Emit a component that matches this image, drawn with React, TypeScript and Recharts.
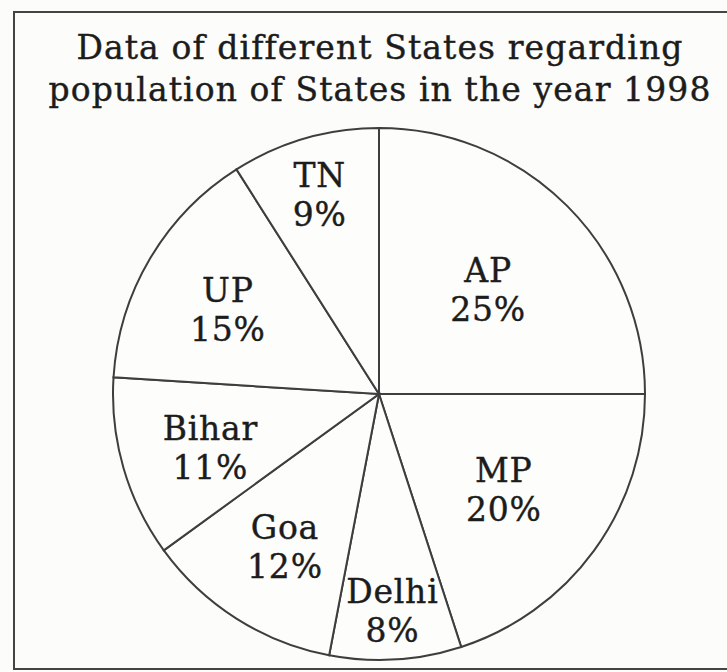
import { PieChart, Pie, Cell } from "recharts";

const states = ["AP", "MP", "Delhi", "Goa", "Bihar", "UP", "TN"];
const shares = [25, 20, 8, 12, 11, 15, 9];

const data = states.map((name, i) => ({ name, value: shares[i] }));

const RAD = Math.PI / 180;
const FONT = "'DejaVu Serif', serif";
const INK = "#1c1c1c";

// narrow slices keep their label further out, near the rim
function labelRatio(pct: number) {
  if (pct >= 20) return 0.58;
  if (pct >= 11) return 0.66;
  return 0.8;
}

function renderLabel(props: any) {
  const { cx, cy, midAngle, outerRadius, name, value } = props;
  const r = outerRadius * labelRatio(value);
  const x = cx + r * Math.cos(-midAngle * RAD);
  const y = cy + r * Math.sin(-midAngle * RAD);
  return (
    <text
      x={x}
      y={y}
      textAnchor="middle"
      fill={INK}
      stroke={INK}
      strokeWidth={0.4}
      fontFamily={FONT}
      fontSize={33}
      letterSpacing={0.8}
    >
      <tspan x={x} dy={-3}>
        {name}
      </tspan>
      <tspan x={x} dy={39}>
        {value}%
      </tspan>
    </text>
  );
}

export default function App() {
  return (
    <div
      style={{
        position: "absolute",
        top: 0,
        left: 0,
        width: 727,
        height: 672,
        background: "#fcfcfa",
        overflow: "hidden",
      }}
    >
      <div
        style={{
          position: "absolute",
          left: 13,
          top: 11,
          width: 740,
          height: 655,
          border: "2px solid #444",
        }}
      />
      <div
        style={{
          position: "absolute",
          left: 30,
          top: 27,
          width: 700,
          textAlign: "center",
          fontFamily: FONT,
          fontSize: 33,
          lineHeight: "42px",
          letterSpacing: 1.1,
          color: INK,
          WebkitTextStroke: "0.4px #1c1c1c",
        }}
      >
        Data of different States regarding
        <br />
        population of States in the year 1998
      </div>
      <div style={{ position: "absolute", left: 0, top: 0 }}>
        <PieChart width={727} height={672}>
          <Pie
            data={data}
            dataKey="value"
            nameKey="name"
            cx={374}
            cy={389}
            outerRadius={266}
            startAngle={90}
            endAngle={-270}
            stroke="#3e3e3e"
            strokeWidth={2}
            label={renderLabel}
            labelLine={false}
            isAnimationActive={false}
          >
            {data.map((d) => (
              <Cell key={d.name} fill="#fdfdfb" />
            ))}
          </Pie>
        </PieChart>
      </div>
    </div>
  );
}
